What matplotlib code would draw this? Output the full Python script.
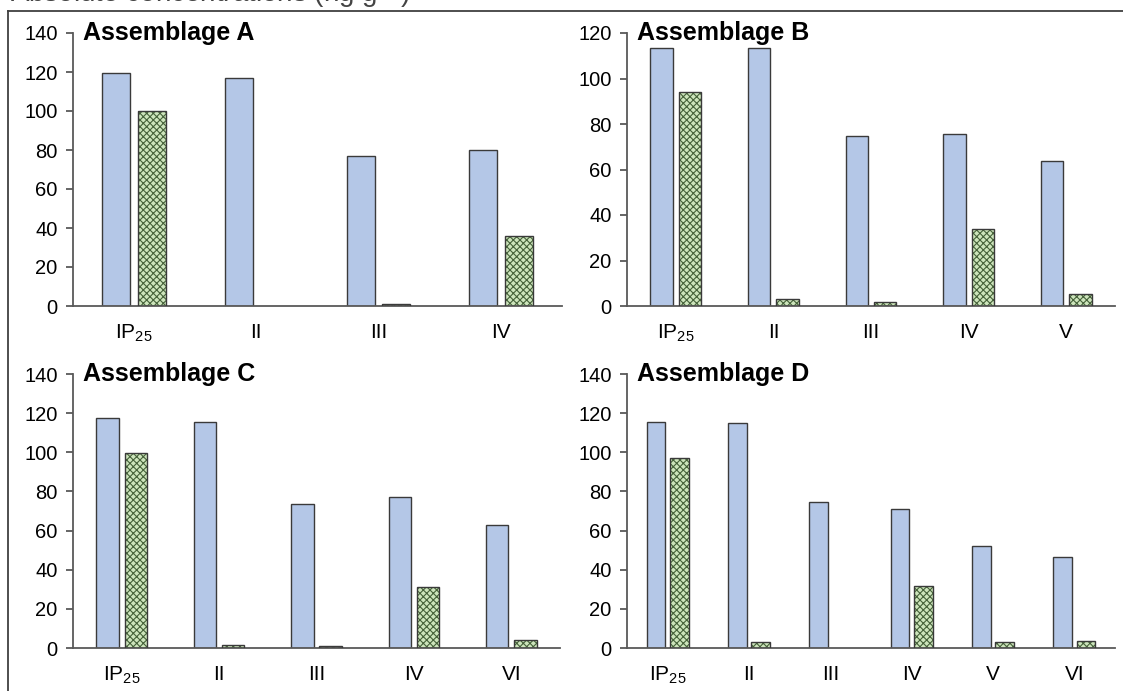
import matplotlib
matplotlib.use("Agg")
import matplotlib.pyplot as plt
from matplotlib.lines import Line2D

plt.rcParams['font.family'] = ['Liberation Sans', 'DejaVu Sans']
plt.rcParams['hatch.linewidth'] = 0.8

# Assemblage A
cats_a = ['IP$_{\\mathregular{25}}$', 'II', 'III', 'IV']
total_a = [119.3, 116.7, 77.1, 80.0]
free_a = [100.2, 0.0, 1.0, 36.0]

# Assemblage B
cats_b = ['IP$_{\\mathregular{25}}$', 'II', 'III', 'IV', 'V']
total_b = [113.3, 113.3, 74.6, 75.7, 63.7]
free_b = [94.1, 3.1, 1.9, 33.8, 5.1]

# Assemblage C
cats_c = ['IP$_{\\mathregular{25}}$', 'II', 'III', 'IV', 'VI']
total_c = [117.7, 115.3, 73.5, 77.3, 63.0]
free_c = [99.5, 1.7, 1.2, 31.1, 4.3]

# Assemblage D
cats_d = ['IP$_{\\mathregular{25}}$', 'II', 'III', 'IV', 'V', 'VI']
total_d = [115.5, 115.0, 74.8, 71.2, 52.3, 46.3]
free_d = [97.3, 3.1, 0.0, 31.9, 3.1, 3.7]

titles = ['Assemblage A', 'Assemblage B', 'Assemblage C', 'Assemblage D']
ymax = [140, 120, 140, 140]

W, H = 1123, 691
fig = plt.figure(figsize=(W / 100, H / 100), dpi=100)

# panel boxes in pixels: left, right, top (y max), bottom (y = 0)
boxes = [(73, 562, 33, 306), (627, 1115, 33, 306),
         (73, 560, 374, 648), (627, 1115, 374, 648)]
data = [(cats_a, total_a, free_a), (cats_b, total_b, free_b),
        (cats_c, total_c, free_c), (cats_d, total_d, free_d)]

blue = '#B4C7E7'
green = '#CDE5BC'
edge = '#3A3A3A'
hatch_col = '#46623A'
spine_col = '#595959'

bw = 0.23
off = 0.145

for (l, r, t, b), (cats, tot, fr), title, ym in zip(boxes, data, titles, ymax):
    ax = fig.add_axes([l / W, 1 - b / H, (r - l) / W, (b - t) / H])
    x = list(range(len(cats)))
    ax.bar([i - off for i in x], tot, width=bw, color=blue,
           edgecolor=edge, linewidth=1.0, zorder=2)
    for i, v in zip(x, fr):
        if v > 0:
            ax.bar(i + off, v, width=bw, color=green, edgecolor=hatch_col,
                   hatch='xxxxx', linewidth=0, zorder=2)
            ax.bar(i + off, v, width=bw, color='none', edgecolor=edge,
                   linewidth=1.0, zorder=3)
    ax.set_xlim(-0.5, len(cats) - 0.5)
    ax.set_ylim(0, ym)
    ax.set_yticks(range(0, ym + 1, 20))
    ax.set_xticks(x)
    ax.set_xticklabels(cats)
    for s in ('top', 'right'):
        ax.spines[s].set_visible(False)
    for s in ('left', 'bottom'):
        ax.spines[s].set_color(spine_col)
        ax.spines[s].set_linewidth(1.3)
    ax.tick_params(axis='y', direction='out', length=5, width=1.3,
                   color=spine_col, labelsize=14.5, pad=6)
    ax.tick_params(axis='x', length=0, labelsize=15, pad=12)
    ax.text(0.02, 1.0, title, transform=ax.transAxes, fontsize=18,
            fontweight='bold', ha='left', va='center')
    ax.patch.set_alpha(0)

# heading running above the panels
fig.text(10 / W, 1 - 2.5 / H, 'Absolute concentrations (ng g$^{\\mathregular{-1}}$)',
         fontsize=20, color='#444444', ha='left', va='baseline')

# frame around the panels
fig.add_artist(Line2D([8 / W, 1.0], [1 - 11 / H, 1 - 11 / H],
                      transform=fig.transFigure, color='#404040', linewidth=1.3))
fig.add_artist(Line2D([8 / W, 8 / W], [0, 1 - 11 / H],
                      transform=fig.transFigure, color='#404040', linewidth=1.3))

fig.savefig('out.png', dpi=100)
